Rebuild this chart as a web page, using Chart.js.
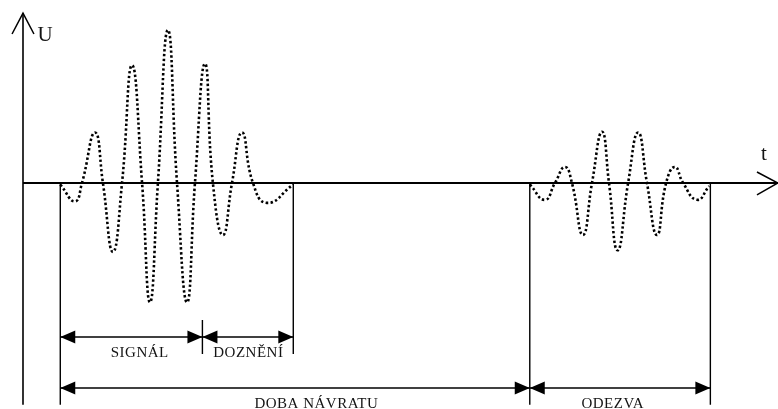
<!DOCTYPE html>
<html><head><meta charset="utf-8">
<script src="https://cdn.jsdelivr.net/npm/chart.js@4.4.1/dist/chart.umd.min.js"></script>
<style>html,body{margin:0;padding:0;background:#fff;}canvas{display:block}</style>
</head><body>
<canvas id="c" width="778" height="409"></canvas>
<script>
// Time t (arbitrary units) and voltage U (% of the signal peak)
const signalT = [16, 22.3, 25.3, 30.9, 34.3, 38.6, 42.5, 46.8, 51.1, 54.5, 57.9, 62.2, 66.1, 70.4, 73.8, 78.1, 81.5, 85.8, 89.7, 94.0, 98.7, 104.7, 116];
const signalU = [-1, -12, 0, 33, 0, -45, 0, 77, 0, -78, 0, 100, 0, -78, 0, 78, 0, -34, 0, 33, 0, -13, -1];
const echoT = [217.5, 224.0, 228.3, 232.6, 235.6, 240.3, 244.2, 248.5, 251.5, 255.2, 259.7, 264.0, 267.8, 272.1, 276.0, 279.8, 283.3, 289.3, 294.5];
const echoU = [-1, -11, 0, 10.5, 0, -34, 0, 33.5, 0, -44, 0, 33, 0, -34, 0, 10.5, 0, -11, -2];

// Boundary (extension) lines: time, top U, bottom U
const boundaryT = [16, 77, 116, 217.5, 295];
const boundaryTop = [0, -89.5, 0, 0, 0];
const boundaryBottom = [-145, -111.8, -111.8, -145, -145];

// Dimension spans
const spanLabels = ['SIGNÁL', 'DOZNĚNÍ', 'DOBA NÁVRATU', 'ODEZVA'];
const spanFrom = [16, 77, 16, 217.5];
const spanTo = [77, 116, 217.5, 295];
const spanLevel = [-100.7, -100.7, -134, -134];
const labelT = [50, 96.6, 125.8, 253];
const labelU = [-113.7, -113.7, -147, -147];

// Axes
const axisNames = ['U', 't'];
const axisLabelT = [6.2, 316.7];
const axisLabelU = [92.8, 15];
const uAxisRange = [-145, 111];   // U extent of the vertical axis at t = 0
const tAxisRange = [0, 324];      // t extent of the horizontal axis at U = 0
const uArrowT = [-4.7, 0, 4.7];
const uArrowU = [97.4, 111, 97.4];
const tArrowT = [315, 324, 315];
const tArrowU = [7.2, 0, -7.8];

// Scale limits
const tMin = -9.87, tMax = 324.03;
const uMin = -147.71, uMax = 119.61;

const pts = (xs, ys) => xs.map((x, i) => ({x, y: ys[i]}));
const solid = (data, w) => ({data, borderColor: '#000', borderWidth: w, pointRadius: 0, tension: 0, fill: false, clip: false});

const datasets = [];
datasets.push(solid(pts([0, 0], uAxisRange), 1.6));
datasets.push(solid(pts(tAxisRange, [0, 0]), 1.8));
datasets.push(solid(pts(uArrowT, uArrowU), 1.5));
datasets.push(solid(pts(tArrowT, tArrowU), 1.5));
boundaryT.forEach((t, i) => datasets.push(solid(pts([t, t], [boundaryTop[i], boundaryBottom[i]]), 1.4)));
spanFrom.forEach((f, i) => datasets.push(solid(pts([f, spanTo[i]], [spanLevel[i], spanLevel[i]]), 1.4)));
[[signalT, signalU], [echoT, echoU]].forEach(([xs, ys]) => datasets.push({
  data: pts(xs, ys), borderColor: '#000', borderWidth: 2.6, borderDash: [2.4, 2.4], borderCapStyle: 'butt',
  pointRadius: 0, tension: 0.5, fill: false, clip: false
}));

const annot = {
  id: 'annot',
  afterDatasetsDraw(chart) {
    const ctx = chart.ctx, xs = chart.scales.x, ys = chart.scales.y;
    ctx.save();
    ctx.fillStyle = '#000';
    const head = (t, u, dir) => {
      const px = xs.getPixelForValue(t), py = ys.getPixelForValue(u);
      ctx.beginPath();
      ctx.moveTo(px, py);
      ctx.lineTo(px - dir * 15, py - 6.5);
      ctx.lineTo(px - dir * 15, py + 6.5);
      ctx.closePath();
      ctx.fill();
    };
    spanFrom.forEach((f, i) => { head(f, spanLevel[i], -1); head(spanTo[i], spanLevel[i], 1); });
    ctx.fillStyle = '#141414';
    ctx.textBaseline = 'alphabetic';
    ctx.textAlign = 'center';
    ctx.font = '15px "Liberation Serif", "Times New Roman", serif';
    if ('letterSpacing' in ctx) ctx.letterSpacing = '0.5px';
    spanLabels.forEach((s, i) => ctx.fillText(s, xs.getPixelForValue(labelT[i]) + 0.25, ys.getPixelForValue(labelU[i])));
    if ('letterSpacing' in ctx) ctx.letterSpacing = '0px';
    ctx.textAlign = 'left';
    ctx.font = '21px "Liberation Serif", "Times New Roman", serif';
    axisNames.forEach((s, i) => ctx.fillText(s, xs.getPixelForValue(axisLabelT[i]), ys.getPixelForValue(axisLabelU[i])));
    ctx.restore();
  }
};

new Chart(document.getElementById('c'), {
  type: 'line',
  data: {datasets},
  options: {
    responsive: false, animation: false, devicePixelRatio: 1,
    layout: {padding: 0},
    plugins: {legend: {display: false}, tooltip: {enabled: false}},
    scales: {
      x: {type: 'linear', min: tMin, max: tMax, display: false},
      y: {type: 'linear', min: uMin, max: uMax, display: false}
    }
  },
  plugins: [annot]
});
</script>
</body></html>
